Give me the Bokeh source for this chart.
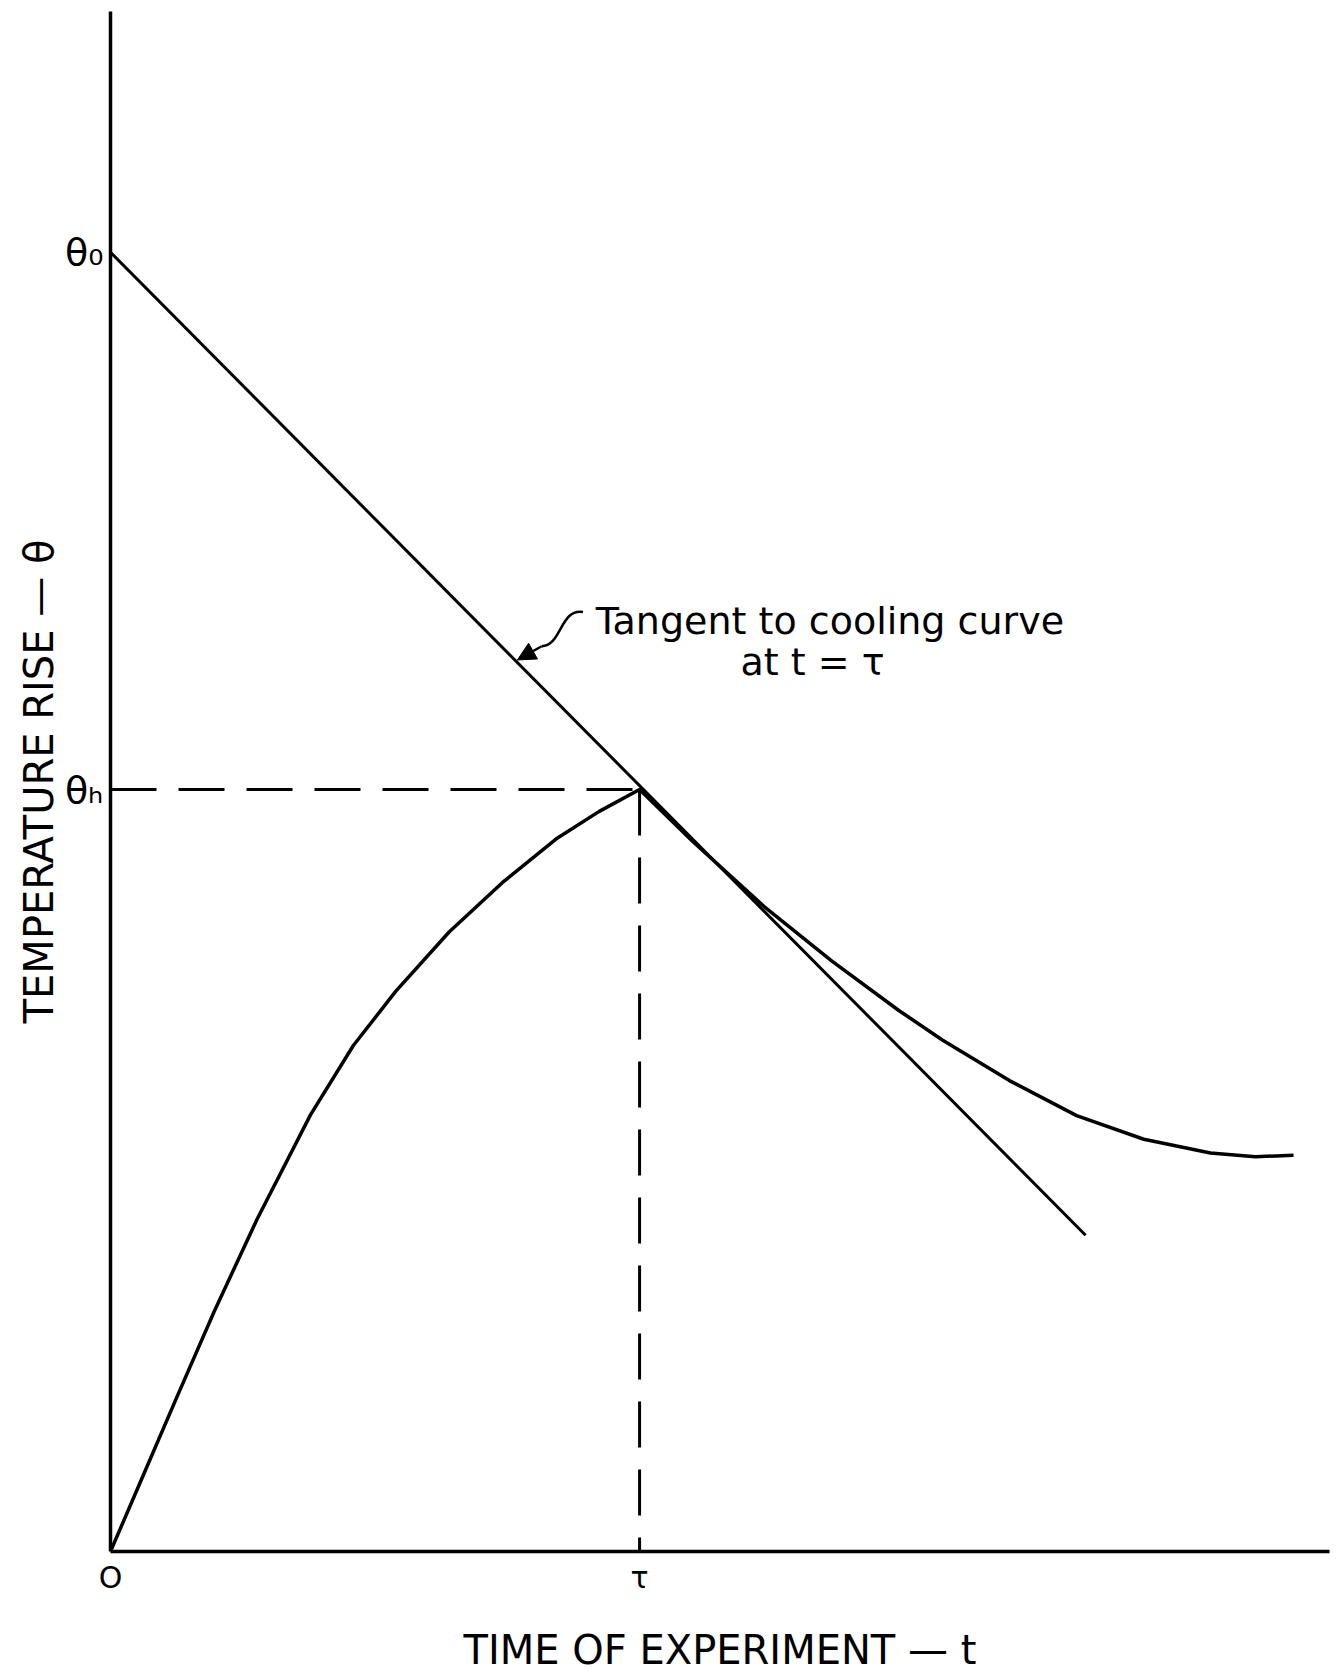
from bokeh.plotting import figure
from bokeh.models import FixedTicker, Label, Arrow, NormalHead, Range1d
from bokeh.embed import file_html
from bokeh.resources import INLINE

# ---- data (t in units of tau, theta in units of theta_H) ----
heat_t = [0, 0.065, 0.125, 0.196, 0.277, 0.378, 0.459, 0.539, 0.640, 0.741,
          0.842, 0.923, 1.0]
heat_theta = [0, 0.105, 0.202, 0.315, 0.436, 0.573, 0.664, 0.735, 0.813, 0.878,
              0.935, 0.971, 1.0]

cool_t = [1.0, 1.1, 1.236, 1.363, 1.490, 1.573, 1.699, 1.826, 1.953, 2.079, 2.164, 2.236]
cool_theta = [1.0, 0.932, 0.846, 0.775, 0.710, 0.671, 0.618, 0.572, 0.541, 0.523, 0.518, 0.520]

tangent_t = [0.0, 1.843]
tangent_theta = [1.705, 0.415]

tau = 1.0
theta_H = 1.0
theta_0 = 1.705

x_ticks = [0.0, tau]
x_tick_labels = {0: "O", 1: "τ"}
y_ticks = [theta_H, theta_0]
y_tick_labels = {1: "θₕ", 1.705: "θ₀"}

x_title = "TIME OF EXPERIMENT — t"
y_title = "TEMPERATURE RISE — θ"
note_line1 = "Tangent to cooling curve"
note_line2 = "at t = τ"

FONT = "DejaVu Sans"
X_MAX, Y_MAX = 2.304, 2.021

p = figure(width=1341, height=1675, output_backend="svg", toolbar_location=None,
           x_range=Range1d(0, X_MAX), y_range=Range1d(0, Y_MAX),
           min_border_left=110, min_border_right=12, min_border_top=11,
           min_border_bottom=118, outline_line_color=None,
           background_fill_color="white", border_fill_color="white")
p.grid.visible = False

for ax in (p.xaxis[0], p.yaxis[0]):
    ax.axis_line_width = 3.5
    ax.axis_line_color = "black"
    ax.major_tick_line_color = None
    ax.minor_tick_line_color = None
    ax.major_tick_out = 0
    ax.major_tick_in = 0
    ax.major_label_text_font = FONT
    ax.major_label_text_color = "black"
    ax.axis_label_text_font = FONT
    ax.axis_label_text_font_style = "normal"
    ax.axis_label_text_color = "black"

xa = p.xaxis[0]
xa.ticker = FixedTicker(ticks=x_ticks)
xa.major_label_overrides = x_tick_labels
xa.major_label_text_font_size = "30px"
xa.major_label_standoff = 8
xa.axis_label = x_title
xa.axis_label_text_font_size = "40px"
xa.axis_label_standoff = 29

ya = p.yaxis[0]
ya.ticker = FixedTicker(ticks=y_ticks)
ya.major_label_overrides = y_tick_labels
ya.major_label_text_font_size = "38px"
ya.major_label_standoff = 7
ya.major_label_orientation = "horizontal"
ya.axis_label = y_title
ya.axis_label_text_font_size = "40px"
ya.axis_label_standoff = 0

# dashed guides at tau / theta_H
p.line([0, tau], [theta_H, theta_H], line_color="black", line_width=3,
       line_dash="46 22")
p.line([tau, tau], [theta_H, 0], line_color="black", line_width=3,
       line_dash="46 22")

# tangent line
p.line(tangent_t, tangent_theta, line_color="black", line_width=3)

# heating + cooling curve
p.line(heat_t + cool_t[1:], heat_theta + cool_theta[1:], line_color="black",
       line_width=3.5, line_join="round")

# annotation text
p.add_layout(Label(x=0.917, y=1.221, text=note_line1, text_font=FONT,
                   text_font_size="38px", text_align="left",
                   text_baseline="alphabetic", text_color="black"))
p.add_layout(Label(x=1.327, y=1.167, text=note_line2, text_font=FONT,
                   text_font_size="38px", text_align="center",
                   text_baseline="alphabetic", text_color="black"))

# curved leader with arrow head
p.bezier(x0=[0.893], y0=[1.233], x1=[0.815], y1=[1.188],
         cx0=[0.850], cy0=[1.238], cx1=[0.852], cy1=[1.188],
         line_color="black", line_width=2.5)
p.add_layout(Arrow(end=NormalHead(size=18, fill_color="black", line_color="black"),
                   x_start=0.815, y_start=1.188, x_end=0.769, y_end=1.170,
                   line_color="black", line_width=2.5))

open("out.html", "w").write(file_html(p, INLINE))
